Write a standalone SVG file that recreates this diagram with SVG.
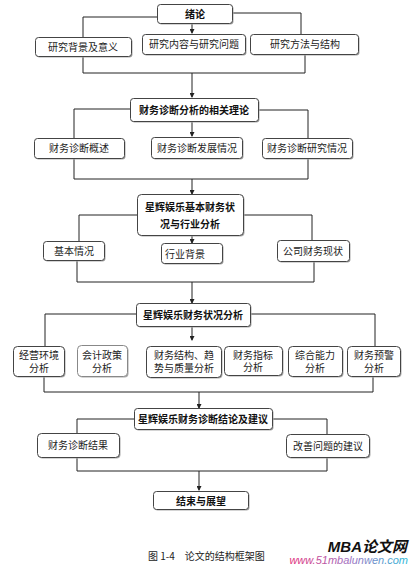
<svg xmlns="http://www.w3.org/2000/svg" width="411" height="566" viewBox="0 0 411 566">
<defs>
<marker id="ah" markerWidth="5" markerHeight="5" refX="4" refY="2.5" orient="auto" markerUnits="userSpaceOnUse">
<path d="M0,0 L5,2.5 L0,5 z" fill="#222"/>
</marker>
<linearGradient id="wg" x1="0" y1="0" x2="1" y2="0">
<stop offset="0" stop-color="#e0307a"/>
<stop offset="0.5" stop-color="#a070c0"/>
<stop offset="1" stop-color="#30b8d8"/>
</linearGradient>
</defs>
<style>
.b{fill:#fff;stroke:#444;stroke-width:1}
.s{fill:#aaa}
.t{font-family:"Liberation Sans","Noto Sans CJK SC",sans-serif;font-size:10px;fill:#222;text-anchor:middle}
.h{font-weight:bold;fill:#111}
.c{fill:none;stroke:#222;stroke-width:1}
.a{marker-end:url(#ah)}
</style>
<rect width="411" height="566" fill="#fff"/>
<g id="connectors">
<path class="c" d="M157,17 H83 V37"/>
<path class="c" d="M232,13 H301 V34"/>
<path class="c a" d="M192,23 V33"/>
<path class="c" d="M83,56 V73 H305 V54"/>
<path class="c a" d="M192,73 V97"/>
<path class="c" d="M130,109 H74 V138"/>
<path class="c" d="M258,110 H308 V138"/>
<path class="c a" d="M192,121 V136"/>
<path class="c" d="M74,158 V179 H308 V158"/>
<path class="c a" d="M192,179 V194"/>
<path class="c" d="M137,215 H79 V241"/>
<path class="c" d="M243,215 H312 V240"/>
<path class="c a" d="M192,235 V243"/>
<path class="c" d="M77,260 V282 H314 V261"/>
<path class="c a" d="M192,282 V303"/>
<path class="c" d="M136,314 H45 V346"/>
<path class="c" d="M250,314 H375 V346"/>
<path class="c a" d="M192,326 V340"/>
<path class="c" d="M44,376 V392 H373 V376"/>
<path class="c a" d="M199,392 V408"/>
<path class="c" d="M134,419 H77 V433"/>
<path class="c" d="M272,419 H327 V434"/>
<path class="c" d="M77,457 V471 H327 V457"/>
<path class="c a" d="M199,471 V490"/>
</g>
<g id="n1"><rect class="s" x="158.5" y="5.5" width="75" height="19" rx="3"/><rect class="b" x="157.5" y="4.5" width="75" height="19" rx="3"/><text class="t h" x="195" y="17.5">绪论</text></g>
<g id="n2"><rect class="s" x="36.5" y="38.5" width="96" height="19" rx="3"/><rect class="b" x="35.5" y="37.5" width="96" height="19" rx="3"/><text class="t" x="83" y="50.5">研究背景及意义</text></g>
<g id="n3"><rect class="s" x="143.5" y="35.5" width="103" height="20" rx="3"/><rect class="b" x="142.5" y="34.5" width="103" height="20" rx="3"/><text class="t" x="194" y="48">研究内容与研究问题</text></g>
<g id="n4"><rect class="s" x="251.5" y="35.5" width="108" height="20" rx="3"/><rect class="b" x="250.5" y="34.5" width="108" height="20" rx="3"/><text class="t" x="305" y="48">研究方法与结构</text></g>
<g id="n5"><rect class="s" x="131.5" y="99.5" width="128" height="23" rx="3"/><rect class="b" x="130.5" y="98.5" width="128" height="23" rx="3"/><text class="t h" x="194" y="113.5">财务诊断分析的相关理论</text></g>
<g id="n6"><rect class="s" x="35.5" y="139.5" width="90" height="20" rx="3"/><rect class="b" x="34.5" y="138.5" width="90" height="20" rx="3"/><text class="t" x="79" y="152">财务诊断概述</text></g>
<g id="n7"><rect class="s" x="152.5" y="138.5" width="91" height="21" rx="3"/><rect class="b" x="151.5" y="137.5" width="91" height="21" rx="3"/><text class="t" x="197" y="151.5">财务诊断发展情况</text></g>
<g id="n8"><rect class="s" x="263.5" y="139.5" width="90" height="20" rx="3"/><rect class="b" x="262.5" y="138.5" width="90" height="20" rx="3"/><text class="t" x="307" y="152">财务诊断研究情况</text></g>
<g id="n9"><rect class="s" x="138.5" y="195.5" width="106" height="41" rx="4"/><rect class="b" x="137.5" y="194.5" width="106" height="41" rx="4"/><text class="t h" x="190" y="211">星辉娱乐基本财务状</text><text class="t h" x="190" y="228">况与行业分析</text></g>
<g id="n10"><rect class="s" x="44.5" y="242.5" width="61" height="19" rx="3"/><rect class="b" x="43.5" y="241.5" width="61" height="19" rx="3"/><text class="t" x="74" y="254.5">基本情况</text></g>
<g id="n11"><rect class="s" x="162.5" y="244.5" width="61" height="20" rx="3"/><rect class="b" x="161.5" y="243.5" width="61" height="20" rx="3"/><text class="t" x="185" y="258">行业背景</text></g>
<g id="n12"><rect class="s" x="278.5" y="241.5" width="72" height="21" rx="3"/><rect class="b" x="277.5" y="240.5" width="72" height="21" rx="3"/><text class="t" x="313" y="254.5">公司财务现状</text></g>
<g id="n13"><rect class="s" x="137.5" y="304.5" width="114" height="23" rx="3"/><rect class="b" x="136.5" y="303.5" width="114" height="23" rx="3"/><text class="t h" x="193" y="318.5">星辉娱乐财务状况分析</text></g>
<g id="n14"><rect class="s" x="14.5" y="347.5" width="51" height="30" rx="4"/><rect class="b" x="13.5" y="346.5" width="51" height="30" rx="4"/><text class="t" x="39" y="358.5">经营环境</text><text class="t" x="39" y="371.5">分析</text></g>
<g id="n15"><rect class="s" x="78.5" y="346.5" width="50" height="31" rx="4"/><rect class="b" x="77.5" y="345.5" width="50" height="31" rx="4" style="stroke:#888"/><text class="t" x="102" y="358.5">会计政策</text><text class="t" x="102" y="371.5">分析</text></g>
<g id="n16"><rect class="s" x="147.5" y="347.5" width="75" height="31" rx="4"/><rect class="b" x="146.5" y="346.5" width="75" height="31" rx="4"/><text class="t" x="184" y="359">财务结构、趋</text><text class="t" x="184" y="372">势与质量分析</text></g>
<g id="n17"><rect class="s" x="225.5" y="347.5" width="58" height="29" rx="4"/><rect class="b" x="224.5" y="346.5" width="58" height="29" rx="4"/><text class="t" x="253" y="358.5">财务指标</text><text class="t" x="253" y="371">分析</text></g>
<g id="n18"><rect class="s" x="289.5" y="347.5" width="54" height="30" rx="4"/><rect class="b" x="288.5" y="346.5" width="54" height="30" rx="4"/><text class="t" x="315" y="359">综合能力</text><text class="t" x="315" y="372">分析</text></g>
<g id="n19"><rect class="s" x="348.5" y="347.5" width="53" height="30" rx="4"/><rect class="b" x="347.5" y="346.5" width="53" height="30" rx="4"/><text class="t" x="374" y="358.5">财务预警</text><text class="t" x="374" y="371.5">分析</text></g>
<g id="n20"><rect class="s" x="135.5" y="409.5" width="138" height="21" rx="3"/><rect class="b" x="134.5" y="408.5" width="138" height="21" rx="3"/><text class="t h" x="203" y="422.5">星辉娱乐财务诊断结论及建议</text></g>
<g id="n21"><rect class="s" x="38.5" y="434.5" width="82" height="24" rx="4"/><rect class="b" x="37.5" y="433.5" width="82" height="24" rx="4"/><text class="t" x="78" y="449">财务诊断结果</text></g>
<g id="n22"><rect class="s" x="287.5" y="435.5" width="83" height="23" rx="4"/><rect class="b" x="286.5" y="434.5" width="83" height="23" rx="4"/><text class="t" x="328" y="450">改善问题的建议</text></g>
<g id="n23"><rect class="s" x="154.5" y="492.5" width="95" height="18" rx="3"/><rect class="b" x="153.5" y="491.5" width="95" height="18" rx="3"/><text class="t h" x="201" y="504.5">结束与展望</text></g>
<text x="148" y="560" style="font-family:'Noto Sans CJK SC',sans-serif;font-size:10px;fill:#222">图 1-4　论文的结构框架图</text>
<text x="407" y="552" style="font-family:'Liberation Sans','Noto Sans CJK SC',sans-serif;font-size:15px;font-weight:bold;font-style:italic;fill:#111;text-anchor:end">MBA论文网</text>
<text x="408" y="564" style="font-family:'Liberation Sans',sans-serif;font-size:11px;font-style:italic;fill:url(#wg);text-anchor:end">www.51mbalunwen.com</text>
</svg>
